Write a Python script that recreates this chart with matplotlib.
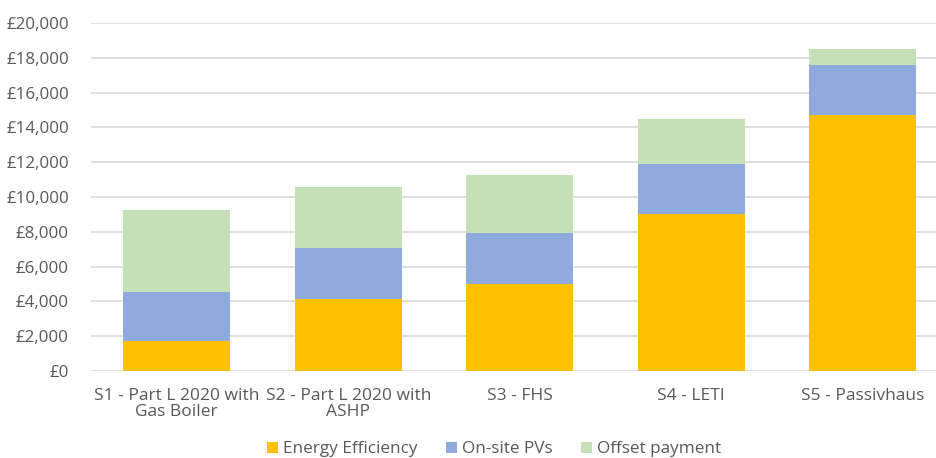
import matplotlib.pyplot as plt
from matplotlib.ticker import FuncFormatter

# scenario names and cost split per home
scenarios = ["S1 - Part L 2020 with\nGas Boiler", "S2 - Part L 2020 with\nASHP",
             "S3 - FHS", "S4 - LETI", "S5 - Passivhaus"]
energy_eff = [1700, 4150, 5000, 9000, 14700]
onsite_pv = [2850, 2900, 2950, 2900, 2900]
offset_pay = [4700, 3500, 3300, 2600, 900]

grey = "#595959"
plt.rcParams["font.family"] = ["Open Sans", "DejaVu Sans"]

fig = plt.figure(figsize=(9.36, 4.58), dpi=100)
ax = fig.add_axes([91 / 936, 1 - 371 / 458, 1 - 91 / 936, 348 / 458])

x = list(range(len(scenarios)))
w = 0.625
bottom2 = [a + b for a, b in zip(energy_eff, onsite_pv)]
ax.bar(x, energy_eff, w, color="#ffc000", label="Energy Efficiency", zorder=3)
ax.bar(x, onsite_pv, w, bottom=energy_eff, color="#8faadc", label="On-site PVs", zorder=3)
ax.bar(x, offset_pay, w, bottom=bottom2, color="#c5e0b4", label="Offset payment", zorder=3)

ax.set_ylim(0, 20000)
ax.set_yticks(range(0, 20001, 2000))
ax.yaxis.set_major_formatter(FuncFormatter(lambda v, p: f"£{v:,.0f}"))
ax.set_xlim(-0.5, 4.427)
ax.set_xticks(x)
ax.set_xticklabels(scenarios, fontsize=12.5, linespacing=1.05)
ax.grid(axis="y", color="#d9d9d9", linewidth=1.2, zorder=0)
for s in ax.spines.values():
    s.set_visible(False)
ax.tick_params(length=0, colors=grey)
ax.tick_params(axis="y", labelsize=12.2, pad=16)
ax.tick_params(axis="x", pad=12)

ax.legend(loc="center", bbox_to_anchor=(0.477, -0.225), ncol=3, frameon=False,
          fontsize=12.3, labelcolor=grey, handlelength=0.6, handleheight=0.6,
          handletextpad=0.3, columnspacing=1.7, borderpad=0)

plt.savefig("out.png", dpi=100)
